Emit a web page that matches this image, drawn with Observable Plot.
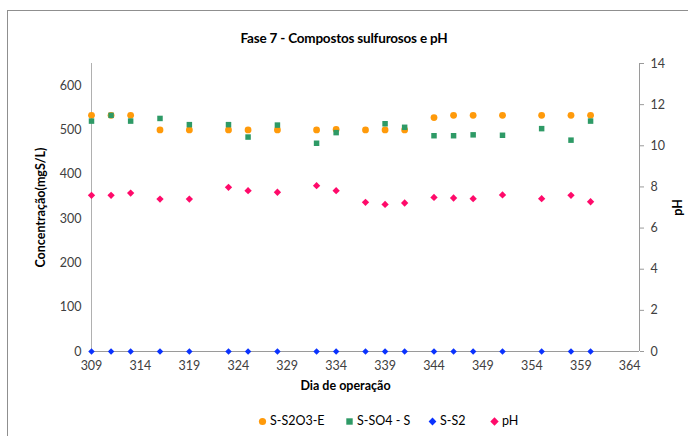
<!DOCTYPE html>
<html>
<head>
<meta charset="utf-8">
<script src="https://cdn.jsdelivr.net/npm/d3@7"></script>
<script src="https://cdn.jsdelivr.net/npm/@observablehq/plot@0.6"></script>
<style>
  html, body { margin: 0; padding: 0; background: #fff; }
  body { font-family: Lato, "Open Sans", sans-serif; color: #404040; }
  #wrap { position: relative; width: 688px; height: 436px; overflow: hidden; }
  #frame { position: absolute; left: 7px; top: 10px; width: 700px; height: 440px;
           border-left: 1px solid #8f8f8f; border-top: 1px solid #8f8f8f; pointer-events: none; }
  #title { height: 50px; box-sizing: border-box; padding-top: 29px; line-height: 18px;
           text-align: center; font-weight: bold; font-size: 13.5px; color: #000; letter-spacing: -0.2px; }
  #legend { position: relative; height: 36px; font-size: 12.5px; color: #000; }
  #legend .item { position: absolute; top: 13px; display: flex; align-items: center; line-height: 16px; }
  #legend svg { margin-right: 3px; }
</style>
</head>
<body>
<div id="wrap">
  <div id="frame"></div>
  <div id="title"></div>
  <div id="chart"></div>
  <div id="legend"></div>
</div>
<script>
// ---- data ----
const title = "Fase 7 - Compostos sulfurosos e pH";
const days = [309, 311, 313, 316, 319, 323, 325, 328, 332, 334, 337, 339, 341, 344, 346, 348, 351, 355, 358, 360];
const s2o3 = [533, 533, 533, 500, 500, 500, 500, 500, 500, 501, 500, 500, 500, 528, 533, 533, 533, 533, 533, 533];
const so4  = [520, 533, 520, 526, 512, 512, 484, 511, 470, 494, null, 514, 506, 487, 487, 489, 488, 503, 477, 520];
const s2   = [0, 0, 0, 0, 0, 0, 0, 0, 0, 0, 0, 0, 0, 0, 0, 0, 0, 0, 0, 0];
const ph   = [7.59, 7.59, 7.70, 7.41, 7.41, 7.98, 7.82, 7.74, 8.06, 7.82, 7.25, 7.15, 7.22, 7.49, 7.46, 7.43, 7.61, 7.43, 7.59, 7.28];
const seriesNames = ["S-S2O3-E", "S-SO4 - S", "S-S2", "pH"];
const seriesColors = ["#FF9A0A", "#2E9A66", "#0A32FF", "#FF0A6A"];
const xTicks = [309, 314, 319, 324, 329, 334, 339, 344, 349, 354, 359, 364];
const yTicks = [0, 100, 200, 300, 400, 500, 600];
const phTicks = [0, 2, 4, 6, 8, 10, 12, 14];
const xDomain = [309, 365];
const yMax = 650, phMax = 14;
const xLabel = "Dia de operação", yLabel = "Concentração(mgS/L)", y2Label = "pH";

// ---- build ----
const rows = days.map((d, i) => ({day: d, s2o3: s2o3[i], so4: so4[i], s2: s2[i], ph: ph[i]}));
const toLeft = v => v * yMax / phMax;
const axisGrey = "#9a9a9a";
const font = 12.5;

document.getElementById("title").textContent = title;

const chart = Plot.plot({
  width: 688,
  height: 350,
  marginLeft: 91,
  marginRight: 49,
  marginTop: 13,
  marginBottom: 49,
  style: {fontFamily: "Lato, 'Open Sans', sans-serif", fontSize: font + "px", color: "#404040", background: "white"},
  x: {domain: xDomain, axis: null},
  y: {domain: [0, yMax], axis: null},
  marks: [
    Plot.ruleY([0], {stroke: axisGrey}),
    Plot.ruleX([xDomain[0]], {stroke: "#b0b0b0"}),
    Plot.ruleX([xDomain[1]], {stroke: axisGrey}),
    Plot.axisY(yTicks, {anchor: "left", tickSize: 0, tickPadding: 10, label: null, fontSize: font, color: "#404040"}),
    Plot.axisX(xTicks, {anchor: "bottom", tickSize: 0, tickPadding: 10, label: null, fontSize: font, color: "#404040"}),
    Plot.axisY(phTicks, {anchor: "right", y: toLeft, tickSize: 4, tickPadding: 7, tickFormat: d => d, label: null,
                         fontSize: font, stroke: axisGrey, fill: "#404040"}),
    Plot.text([yLabel], {frameAnchor: "left", textAnchor: "middle", dx: -51, rotate: -90, fontWeight: "bold", fontSize: 12.5, fill: "#000"}),
    Plot.text([y2Label], {frameAnchor: "right", textAnchor: "middle", dx: 38, rotate: -90, fontWeight: "bold", fontSize: 12.5, fill: "#000"}),
    Plot.text([xLabel], {frameAnchor: "bottom", dy: 38, dx: -20, fontWeight: "bold", fontSize: 12.5, fill: "#000"}),
    Plot.dot(rows, {x: "day", y: "s2o3", symbol: "circle", r: 3.4, fill: seriesColors[0]}),
    Plot.dot(rows, {x: "day", y: "so4", symbol: "square", r: 3.1, fill: seriesColors[1]}),
    Plot.dot(rows, {x: "day", y: "s2", symbol: "diamond2", r: 2.9, fill: seriesColors[2]}),
    Plot.dot(rows, {x: "day", y: d => toLeft(d.ph), symbol: "diamond2", r: 3.3, fill: seriesColors[3]})
  ]
});
document.getElementById("chart").appendChild(chart);

// ---- legend ----
const legendX = [258, 345, 428, 490];
const swatch = [
  '<svg width="9" height="9"><circle cx="4.5" cy="4.5" r="3.6" fill="' + seriesColors[0] + '"/></svg>',
  '<svg width="9" height="9"><rect x="1.3" y="1.3" width="6.4" height="6.4" fill="' + seriesColors[1] + '"/></svg>',
  '<svg width="9" height="9"><path d="M4.5 0.6L8.4 4.5L4.5 8.4L0.6 4.5Z" fill="' + seriesColors[2] + '"/></svg>',
  '<svg width="9" height="9"><path d="M4.5 0.3L8.7 4.5L4.5 8.7L0.3 4.5Z" fill="' + seriesColors[3] + '"/></svg>'
];
const legend = document.getElementById("legend");
seriesNames.forEach((name, i) => {
  const item = document.createElement("div");
  item.className = "item";
  item.style.left = legendX[i] + "px";
  item.innerHTML = swatch[i] + "<span>" + name + "</span>";
  legend.appendChild(item);
});
</script>
</body>
</html>
